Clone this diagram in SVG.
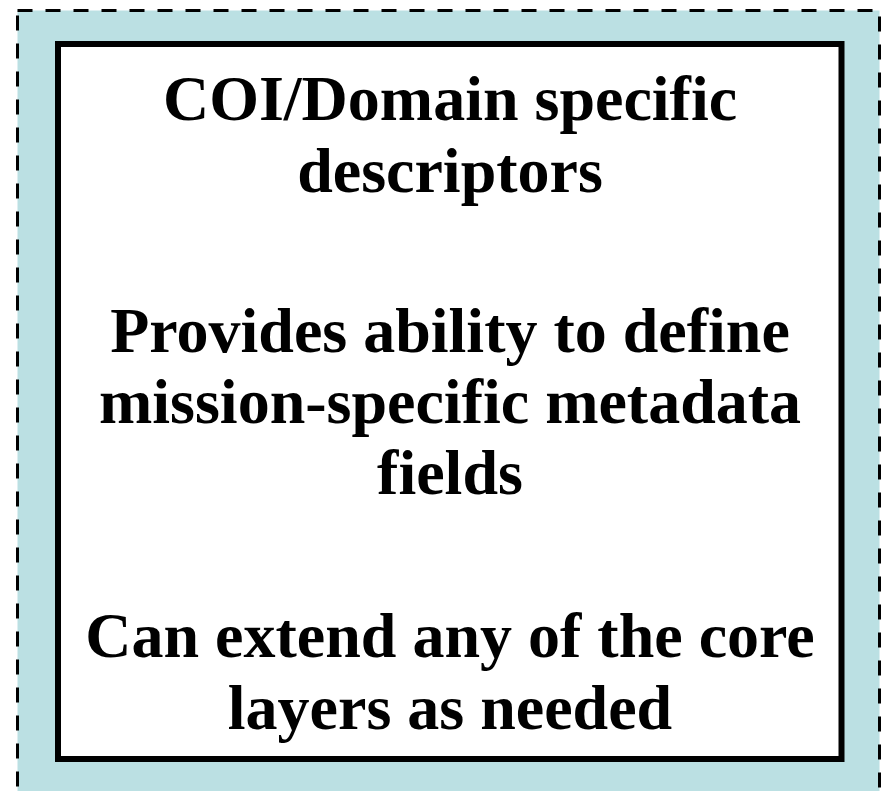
<svg xmlns="http://www.w3.org/2000/svg" width="888" height="791" viewBox="0 0 888 791">
<style>
.t{font-family:"Liberation Serif","Times New Roman",serif;font-weight:bold;font-size:64px;fill:#000;text-anchor:middle}
</style>
<rect width="888" height="791" fill="#fff"/>
<g id="outer">
<rect x="17.5" y="10.5" width="862" height="800" fill="#BBE0E3" stroke="#000" stroke-width="3" stroke-dasharray="15 13"/>
</g>
<g id="inner">
<rect x="58" y="44" width="783.5" height="715" fill="#fff" stroke="#000" stroke-width="6"/>
<text class="t" x="450" y="120">COI/Domain specific</text>
<text class="t" x="450" y="192">descriptors</text>
<text class="t" x="450" y="352">Provides ability to define</text>
<text class="t" x="450" y="423">mission-specific metadata</text>
<text class="t" x="450" y="494">fields</text>
<text class="t" x="450" y="657">Can extend any of the core</text>
<text class="t" x="450" y="729">layers as needed</text>
</g>
<g id="connectors"/>
</svg>
